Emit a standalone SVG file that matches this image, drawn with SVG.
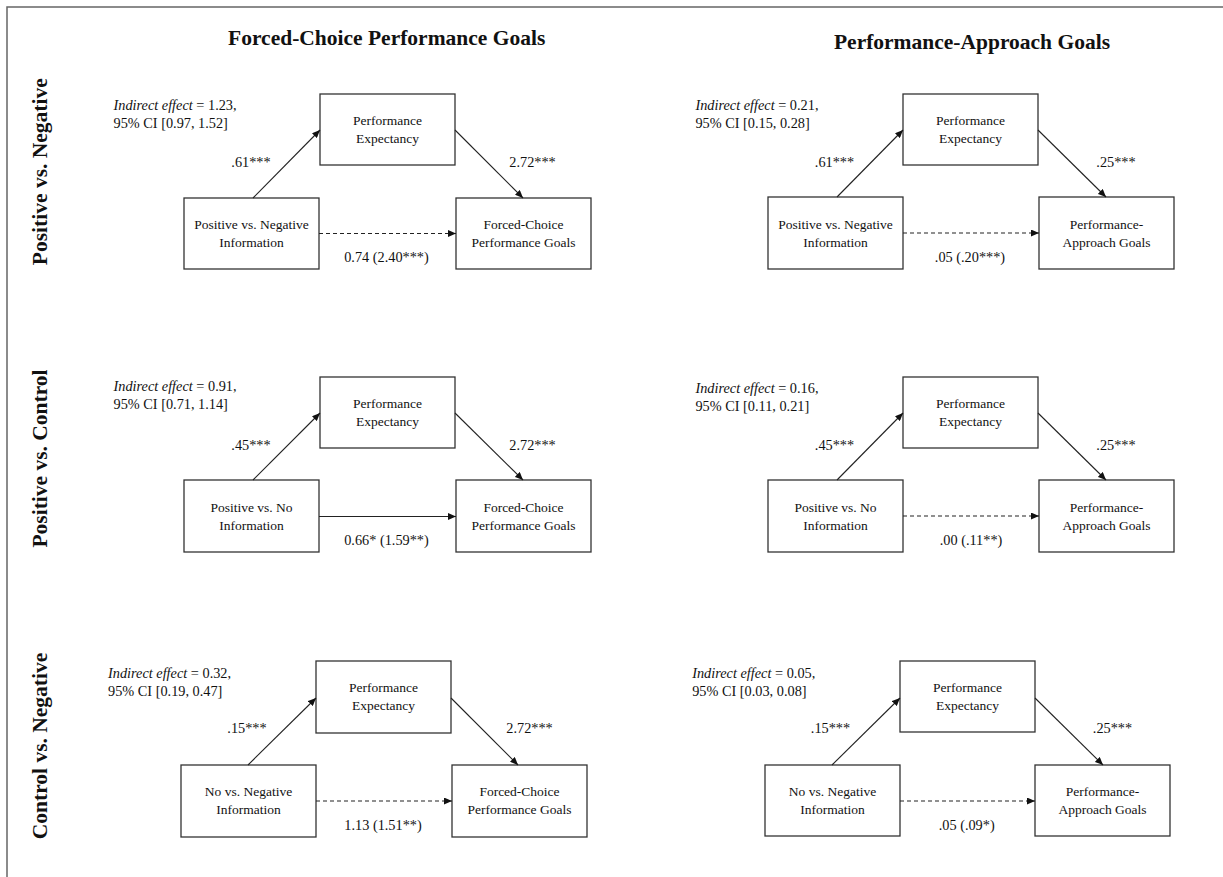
<svg xmlns="http://www.w3.org/2000/svg" width="1223" height="877" viewBox="0 0 1223 877">
<style>
.box{fill:#fff;stroke:#333;stroke-width:1.3}
.t{font-family:"Liberation Serif","Times New Roman",serif;font-size:13.5px;fill:#111}
.l{font-size:14.3px}
.m{text-anchor:middle}
.h{font-family:"Liberation Serif","Times New Roman",serif;font-size:21.5px;font-weight:bold;fill:#111;text-anchor:middle}
.e{stroke:#222;stroke-width:1.1;fill:none}
.d{stroke-dasharray:4 3}
.frame{stroke:#666;stroke-width:1.5;fill:none}
</style>
<defs>
<marker id="ah" markerUnits="userSpaceOnUse" markerWidth="9" markerHeight="7" refX="8" refY="3.5" orient="auto">
<path d="M0,0 L8,3.5 L0,7 z" fill="#111"/>
</marker>
</defs>
<rect width="1223" height="877" fill="#fff"/>
<path class="frame" d="M7,877 L7,7 L1223,7"/>

<g id="headers">
<text class="h" x="386.7" y="45">Forced-Choice Performance Goals</text>
<text class="h" x="972" y="48.5">Performance-Approach Goals</text>
<text class="h" transform="translate(47,171.7) rotate(-90)">Positive vs. Negative</text>
<text class="h" transform="translate(47,458.5) rotate(-90)">Positive vs. Control</text>
<text class="h" transform="translate(47,746) rotate(-90)">Control vs. Negative</text>
</g>

<!-- Panel TL -->
<g id="tl-indirect"><text class="t l" x="113.5" y="110"><tspan font-style="italic">Indirect effect</tspan> = 1.23,</text><text class="t l" x="113.5" y="128">95% CI [0.97, 1.52]</text></g>
<g id="tl-med"><rect class="box" x="320" y="94" width="135" height="71"/><text class="t m" x="387.5" y="125">Performance</text><text class="t m" x="387.5" y="143">Expectancy</text></g>
<g id="tl-x"><rect class="box" x="184" y="198" width="135" height="71"/><text class="t m" x="251.5" y="229">Positive vs. Negative</text><text class="t m" x="251.5" y="247">Information</text></g>
<g id="tl-y"><rect class="box" x="456" y="198" width="135" height="71"/><text class="t m" x="523.5" y="229">Forced-Choice</text><text class="t m" x="523.5" y="247">Performance Goals</text></g>

<!-- Panel TR -->
<g id="tr-indirect"><text class="t l" x="695.4" y="110"><tspan font-style="italic">Indirect effect</tspan> = 0.21,</text><text class="t l" x="695.4" y="128">95% CI [0.15, 0.28]</text></g>
<g id="tr-med"><rect class="box" x="903" y="94" width="135" height="71"/><text class="t m" x="970.5" y="125">Performance</text><text class="t m" x="970.5" y="143">Expectancy</text></g>
<g id="tr-x"><rect class="box" x="768" y="197" width="135" height="72"/><text class="t m" x="835.5" y="228.5">Positive vs. Negative</text><text class="t m" x="835.5" y="246.5">Information</text></g>
<g id="tr-y"><rect class="box" x="1039" y="197" width="135" height="72"/><text class="t m" x="1106.5" y="228.5">Performance-</text><text class="t m" x="1106.5" y="246.5">Approach Goals</text></g>

<!-- Panel ML -->
<g id="ml-indirect"><text class="t l" x="113.5" y="391"><tspan font-style="italic">Indirect effect</tspan> = 0.91,</text><text class="t l" x="113.5" y="409">95% CI [0.71, 1.14]</text></g>
<g id="ml-med"><rect class="box" x="320" y="377" width="135" height="71"/><text class="t m" x="387.5" y="408">Performance</text><text class="t m" x="387.5" y="426">Expectancy</text></g>
<g id="ml-x"><rect class="box" x="184" y="480" width="135" height="72"/><text class="t m" x="251.5" y="512">Positive vs. No</text><text class="t m" x="251.5" y="530">Information</text></g>
<g id="ml-y"><rect class="box" x="456" y="480" width="135" height="72"/><text class="t m" x="523.5" y="512">Forced-Choice</text><text class="t m" x="523.5" y="530">Performance Goals</text></g>

<!-- Panel MR -->
<g id="mr-indirect"><text class="t l" x="695.4" y="393"><tspan font-style="italic">Indirect effect</tspan> = 0.16,</text><text class="t l" x="695.4" y="411">95% CI [0.11, 0.21]</text></g>
<g id="mr-med"><rect class="box" x="903" y="377" width="135" height="71"/><text class="t m" x="970.5" y="408">Performance</text><text class="t m" x="970.5" y="426">Expectancy</text></g>
<g id="mr-x"><rect class="box" x="768" y="480" width="135" height="72"/><text class="t m" x="835.5" y="512">Positive vs. No</text><text class="t m" x="835.5" y="530">Information</text></g>
<g id="mr-y"><rect class="box" x="1039" y="480" width="135" height="72"/><text class="t m" x="1106.5" y="512">Performance-</text><text class="t m" x="1106.5" y="530">Approach Goals</text></g>

<!-- Panel BL -->
<g id="bl-indirect"><text class="t l" x="108" y="678"><tspan font-style="italic">Indirect effect</tspan> = 0.32,</text><text class="t l" x="108" y="696">95% CI [0.19, 0.47]</text></g>
<g id="bl-med"><rect class="box" x="316" y="661" width="135" height="72"/><text class="t m" x="383.5" y="692">Performance</text><text class="t m" x="383.5" y="710">Expectancy</text></g>
<g id="bl-x"><rect class="box" x="181" y="765" width="135" height="72"/><text class="t m" x="248.5" y="796">No vs. Negative</text><text class="t m" x="248.5" y="814">Information</text></g>
<g id="bl-y"><rect class="box" x="452" y="765" width="135" height="72"/><text class="t m" x="519.5" y="796">Forced-Choice</text><text class="t m" x="519.5" y="814">Performance Goals</text></g>

<!-- Panel BR -->
<g id="br-indirect"><text class="t l" x="692.2" y="678"><tspan font-style="italic">Indirect effect</tspan> = 0.05,</text><text class="t l" x="692.2" y="696">95% CI [0.03, 0.08]</text></g>
<g id="br-med"><rect class="box" x="900" y="661" width="135" height="71"/><text class="t m" x="967.5" y="692">Performance</text><text class="t m" x="967.5" y="710">Expectancy</text></g>
<g id="br-x"><rect class="box" x="765" y="765" width="135" height="71"/><text class="t m" x="832.5" y="796">No vs. Negative</text><text class="t m" x="832.5" y="814">Information</text></g>
<g id="br-y"><rect class="box" x="1035" y="765" width="135" height="71"/><text class="t m" x="1102.5" y="796">Performance-</text><text class="t m" x="1102.5" y="814">Approach Goals</text></g>

<g id="connectors">
<!-- TL -->
<line class="e" x1="253" y1="198" x2="320" y2="130" marker-end="url(#ah)"/>
<line class="e" x1="455" y1="130" x2="523" y2="198" marker-end="url(#ah)"/>
<line class="e d" x1="319" y1="233.5" x2="456" y2="233.5" marker-end="url(#ah)"/>
<!-- TR -->
<line class="e" x1="837" y1="197" x2="903" y2="130" marker-end="url(#ah)"/>
<line class="e" x1="1038" y1="130" x2="1106" y2="197" marker-end="url(#ah)"/>
<line class="e d" x1="903" y1="233" x2="1039" y2="233" marker-end="url(#ah)"/>
<!-- ML -->
<line class="e" x1="253" y1="480" x2="320" y2="413" marker-end="url(#ah)"/>
<line class="e" x1="455" y1="413" x2="523" y2="480" marker-end="url(#ah)"/>
<line class="e" x1="319" y1="516.5" x2="456" y2="516.5" marker-end="url(#ah)"/>
<!-- MR -->
<line class="e" x1="837" y1="480" x2="903" y2="413" marker-end="url(#ah)"/>
<line class="e" x1="1038" y1="413" x2="1106" y2="480" marker-end="url(#ah)"/>
<line class="e d" x1="903" y1="516" x2="1039" y2="516" marker-end="url(#ah)"/>
<!-- BL -->
<line class="e" x1="248" y1="765" x2="316" y2="698" marker-end="url(#ah)"/>
<line class="e" x1="451" y1="698" x2="518" y2="765" marker-end="url(#ah)"/>
<line class="e d" x1="316" y1="801" x2="452" y2="801" marker-end="url(#ah)"/>
<!-- BR -->
<line class="e" x1="832" y1="765" x2="900" y2="698" marker-end="url(#ah)"/>
<line class="e" x1="1035" y1="698" x2="1103" y2="765" marker-end="url(#ah)"/>
<line class="e d" x1="900" y1="801" x2="1035" y2="801" marker-end="url(#ah)"/>
</g>

<g id="connector-labels">
<text class="t l m" x="251" y="166.5">.61***</text>
<text class="t l m" x="532.5" y="166.5">2.72***</text>
<text class="t l m" x="386.5" y="262">0.74 (2.40***)</text>
<text class="t l m" x="834.5" y="166.5">.61***</text>
<text class="t l m" x="1116" y="166.5">.25***</text>
<text class="t l m" x="970" y="262">.05 (.20***)</text>
<text class="t l m" x="251" y="450">.45***</text>
<text class="t l m" x="532.5" y="450">2.72***</text>
<text class="t l m" x="386.5" y="544.5">0.66* (1.59**)</text>
<text class="t l m" x="834.5" y="450">.45***</text>
<text class="t l m" x="1116" y="450">.25***</text>
<text class="t l m" x="971" y="545">.00 (.11**)</text>
<text class="t l m" x="247" y="732.5">.15***</text>
<text class="t l m" x="529.5" y="732.5">2.72***</text>
<text class="t l m" x="383" y="830">1.13 (1.51**)</text>
<text class="t l m" x="830.5" y="732.5">.15***</text>
<text class="t l m" x="1112.5" y="732.5">.25***</text>
<text class="t l m" x="966.7" y="830">.05 (.09*)</text>
</g>
</svg>
